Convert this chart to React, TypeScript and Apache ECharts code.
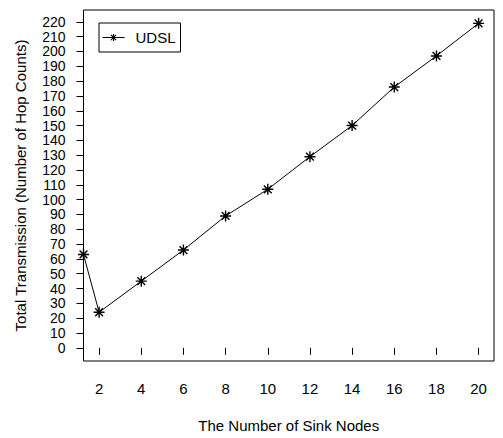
import React, { useEffect, useRef } from "react";
import * as echarts from "echarts";

const sinkNodes = [1.26, 2, 4, 6, 8, 10, 12, 14, 16, 18, 20];
const udslValues = [63, 24, 45, 66, 89, 107, 129, 150, 176, 197, 219];
const xTicks = [2, 4, 6, 8, 10, 12, 14, 16, 18, 20];
const yTicks = [0, 10, 20, 30, 40, 50, 60, 70, 80, 90, 100, 110, 120, 130, 140, 150, 160, 170, 180, 190, 200, 210, 220];

const STAR = "path://M0,5L10,5M5,0L5,10M1.46,1.46L8.54,8.54M8.54,1.46L1.46,8.54";
const FONT = "Liberation Sans, Arial, Helvetica, sans-serif";

export default function App() {
  const ref = useRef<HTMLDivElement>(null);
  useEffect(() => {
    if (!ref.current) return;
    const chart = echarts.init(ref.current, undefined, { renderer: "svg" });
    chart.setOption({
      animation: false,
      backgroundColor: "#ffffff",
      textStyle: { fontFamily: FONT },
      grid: {
        left: 83.5,
        top: 10,
        right: 9,
        bottom: 73,
        show: true,
        borderColor: "#000",
        borderWidth: 1,
        backgroundColor: "transparent",
      },
      legend: {
        left: 99,
        top: 23,
        padding: [7, 5, 7, 3],
        itemWidth: 22,
        itemHeight: 9,
        borderColor: "#000",
        borderWidth: 1,
        borderRadius: 0,
        lineStyle: { width: 1, color: "#000" },
        itemStyle: { borderWidth: 1.1 },
        textStyle: { fontSize: 15, color: "#000", fontFamily: FONT, padding: [0, 0, 0, 6] },
        data: ["UDSL"],
      },
      xAxis: {
        type: "value",
        min: 1.26,
        max: 20.73,
        name: "The Number of Sink Nodes",
        nameLocation: "middle",
        nameGap: 57,
        nameTextStyle: { fontSize: 15, color: "#000", fontFamily: FONT },
        axisLine: { show: false },
        splitLine: { show: false },
        axisTick: {
          show: true,
          inside: false,
          length: 7,
          lineStyle: { color: "#000", width: 1 },
          customValues: xTicks,
        },
        axisLabel: {
          fontSize: 15,
          color: "#000",
          fontFamily: FONT,
          margin: 20,
          customValues: xTicks,
        },
      },
      yAxis: {
        type: "value",
        min: -8.9,
        max: 228,
        name: "Total Transmission (Number of Hop Counts)",
        nameLocation: "middle",
        nameGap: 56,
        nameTextStyle: { fontSize: 15, color: "#000", fontFamily: FONT },
        axisLine: { show: false },
        splitLine: { show: false },
        axisTick: {
          show: true,
          inside: false,
          length: 7,
          lineStyle: { color: "#000", width: 1 },
          customValues: yTicks,
        },
        axisLabel: {
          fontSize: 14,
          lineHeight: 14,
          color: "#000",
          fontFamily: FONT,
          margin: 18,
          customValues: yTicks,
        },
      },
      series: [
        {
          name: "UDSL",
          type: "line",
          data: sinkNodes.map((x, i) => [x, udslValues[i]]),
          symbol: STAR,
          symbolSize: 11,
          showSymbol: true,
          clip: false,
          lineStyle: { color: "#000", width: 1 },
          itemStyle: { color: "#000", borderColor: "#000", borderWidth: 1.4 },
        },
      ],
    });
    return () => chart.dispose();
  }, []);
  return <div ref={ref} style={{ width: 503, height: 438, position: "absolute", left: 0, top: 0 }} />;
}
